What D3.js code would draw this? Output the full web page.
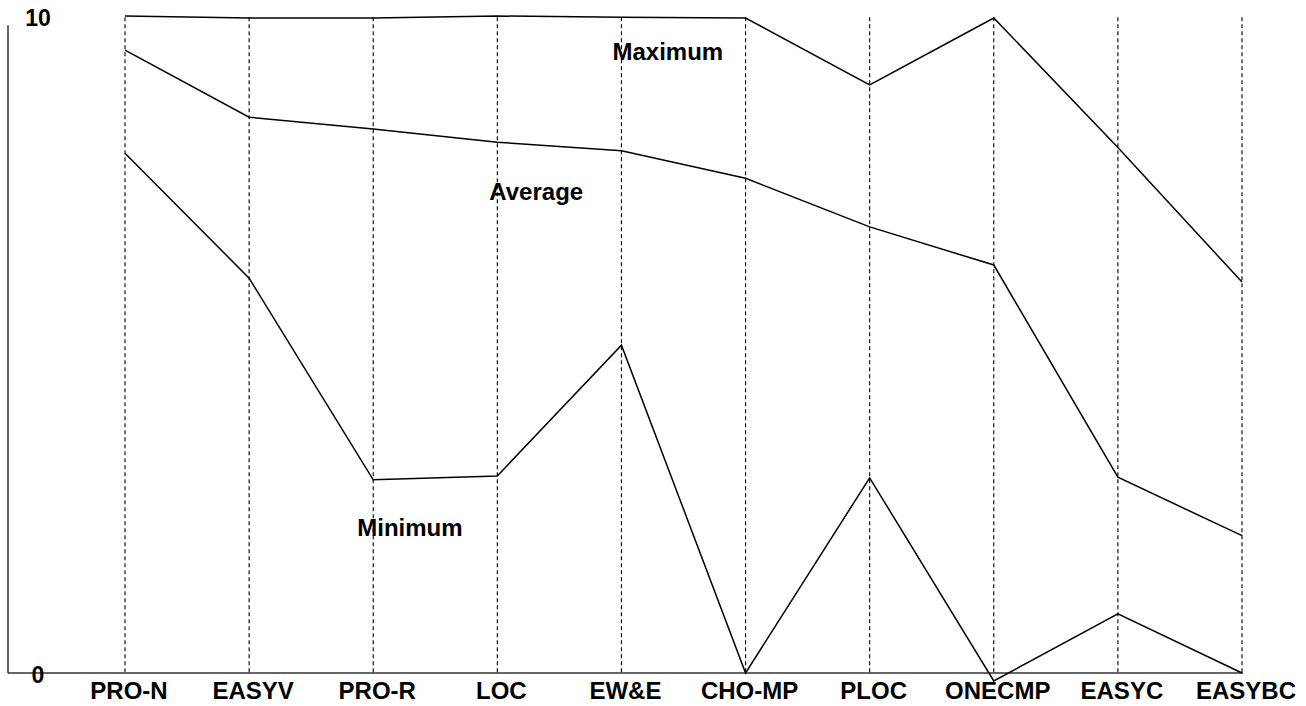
<!DOCTYPE html>
<html>
<head>
<meta charset="utf-8">
<script src="https://cdn.jsdelivr.net/npm/d3@7"></script>
<style>
  html, body { margin: 0; padding: 0; background: #fff; }
  svg { display: block; }
  text { font-family: "Liberation Sans", Arial, sans-serif; font-weight: bold; fill: #000; }
</style>
</head>
<body>
<svg id="chart" width="1306" height="706"></svg>
<script>
const categories = ["PRO-N", "EASYV", "PRO-R", "LOC", "EW&E", "CHO-MP", "PLOC", "ONECMP", "EASYC", "EASYBC"];
const maximum = [10, 9.97, 9.97, 10, 9.98, 9.97, 8.95, 9.97, 8.0, 5.95];
const average = [9.48, 8.46, 8.28, 8.08, 7.95, 7.53, 6.79, 6.21, 2.98, 2.09];
const minimum = [7.91, 6.01, 2.94, 3.0, 4.99, 0, 2.97, -0.12, 0.9, 0];
const yTickLabels = [0, 10];
const seriesNames = ["Maximum", "Average", "Minimum"];

const svg = d3.select("#chart");
const axisLeftX = 8;

const x = d3.scalePoint().domain(categories).range([125, 1242]);
const y = d3.scaleLinear().domain([0, 10]).range([673, 16]);

// Axes lines
svg.append("line")
  .attr("x1", axisLeftX).attr("x2", axisLeftX)
  .attr("y1", y(0)).attr("y2", y(9.86))
  .attr("stroke", "#333").attr("stroke-width", 1.5);
svg.append("line")
  .attr("x1", axisLeftX).attr("x2", x(categories[categories.length - 1]) + 1)
  .attr("y1", y(0)).attr("y2", y(0))
  .attr("stroke", "#333").attr("stroke-width", 1.5);

// Dashed verticals
svg.append("g").selectAll("line")
  .data(categories)
  .join("line")
  .attr("x1", d => x(d)).attr("x2", d => x(d))
  .attr("y1", y(9.98)).attr("y2", y(0))
  .attr("stroke", "#000").attr("stroke-width", 1.1)
  .attr("stroke-dasharray", "4,3");

// Y tick labels
svg.append("g").selectAll("text")
  .data(yTickLabels)
  .join("text")
  .attr("x", 38)
  .attr("y", d => y(d) + 10)
  .attr("text-anchor", "middle")
  .attr("font-size", 23)
  .text(d => d);

// Category labels
svg.append("g").selectAll("text")
  .data(categories)
  .join("text")
  .attr("x", d => x(d) + 4)
  .attr("y", 699)
  .attr("text-anchor", "middle")
  .attr("font-size", 24)
  .text(d => d);

// Lines
const line = d3.line()
  .x((d, i) => x(categories[i]))
  .y(d => y(d));

[maximum, average, minimum].forEach(series => {
  svg.append("path")
    .datum(series)
    .attr("d", line)
    .attr("fill", "none")
    .attr("stroke", "#000")
    .attr("stroke-width", 1.5)
    .attr("stroke-linejoin", "miter");
});

// Series labels
const labelPos = [
  {name: seriesNames[0], cat: "EW&E", v: 9.33, dx: -9},
  {name: seriesNames[1], cat: "LOC", v: 7.2, dx: -8},
  {name: seriesNames[2], cat: "PRO-R", v: 2.085, dx: -16}
];
svg.append("g").selectAll("text")
  .data(labelPos)
  .join("text")
  .attr("x", d => x(d.cat) + d.dx)
  .attr("y", d => y(d.v))
  .attr("font-size", 24)
  .text(d => d.name);
</script>
</body>
</html>
